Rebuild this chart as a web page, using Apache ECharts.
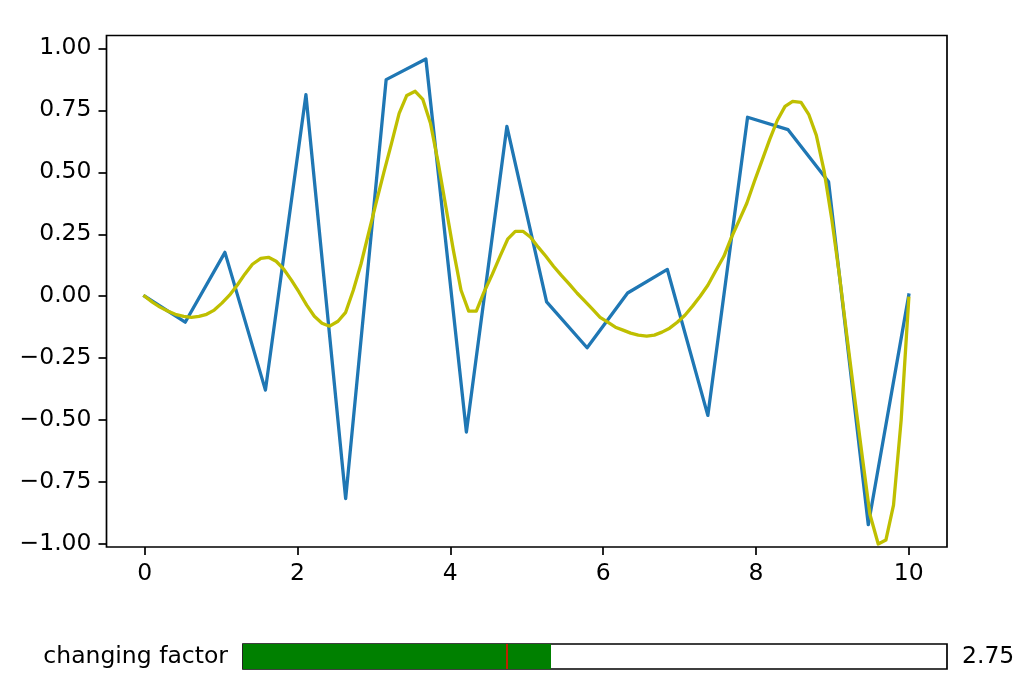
<!DOCTYPE html>
<html>
<head>
<meta charset="utf-8">
<script src="https://cdn.jsdelivr.net/npm/echarts@6/dist/echarts.min.js"></script>
<style>
  html, body { margin: 0; padding: 0; background: #fff; }
  #chart { width: 1024px; height: 689px; }
</style>
</head>
<body>
<div id="chart"></div>
<script>
// ---- data ----
const blueX = [0.00, 0.53, 1.05, 1.58, 2.11, 2.63, 3.16, 3.68, 4.21, 4.74,
               5.26, 5.79, 6.32, 6.84, 7.37, 7.89, 8.42, 8.95, 9.47, 10.00];
const blueY = [0.000, -0.105, 0.177, -0.379, 0.813, -0.817, 0.874, 0.957, -0.548, 0.685,
               -0.023, -0.208, 0.013, 0.108, -0.481, 0.722, 0.672, 0.462, -0.922, 0.005];

const yellowX = [0.00, 0.10, 0.20, 0.30, 0.40, 0.51, 0.61, 0.71, 0.81, 0.91,
                 1.01, 1.11, 1.21, 1.31, 1.41, 1.52, 1.62, 1.72, 1.82, 1.92,
                 2.02, 2.12, 2.22, 2.32, 2.42, 2.53, 2.63, 2.73, 2.83, 2.93,
                 3.03, 3.13, 3.23, 3.33, 3.43, 3.54, 3.64, 3.74, 3.84, 3.94,
                 4.04, 4.14, 4.24, 4.34, 4.44, 4.55, 4.65, 4.75, 4.85, 4.95,
                 5.05, 5.15, 5.25, 5.35, 5.45, 5.56, 5.66, 5.76, 5.86, 5.96,
                 6.06, 6.16, 6.26, 6.36, 6.46, 6.57, 6.67, 6.77, 6.87, 6.97,
                 7.07, 7.17, 7.27, 7.37, 7.47, 7.58, 7.68, 7.78, 7.88, 7.98,
                 8.08, 8.18, 8.28, 8.38, 8.48, 8.59, 8.69, 8.79, 8.89, 8.99,
                 9.09, 9.19, 9.29, 9.39, 9.49, 9.60, 9.70, 9.80, 9.90, 10.00];
const yellowY = [0.000, -0.024, -0.044, -0.060, -0.073, -0.081, -0.085, -0.081, -0.073, -0.056,
                 -0.028, 0.004, 0.044, 0.089, 0.129, 0.153, 0.157, 0.141, 0.109, 0.065,
                 0.016, -0.036, -0.081, -0.109, -0.121, -0.101, -0.065, 0.024, 0.129, 0.254,
                 0.379, 0.500, 0.617, 0.738, 0.810, 0.827, 0.794, 0.698, 0.540, 0.363,
                 0.185, 0.024, -0.060, -0.060, 0.016, 0.089, 0.161, 0.230, 0.262, 0.262,
                 0.238, 0.198, 0.161, 0.121, 0.085, 0.048, 0.012, -0.020, -0.052, -0.085,
                 -0.105, -0.125, -0.137, -0.149, -0.157, -0.161, -0.157, -0.145, -0.129, -0.105,
                 -0.077, -0.040, 0.000, 0.044, 0.101, 0.161, 0.238, 0.306, 0.375, 0.464,
                 0.548, 0.633, 0.710, 0.766, 0.786, 0.782, 0.734, 0.649, 0.508, 0.315,
                 0.089, -0.161, -0.407, -0.645, -0.879, -1.000, -0.984, -0.843, -0.500, -0.008];

const xTicks = [0, 2, 4, 6, 8, 10];
const yTicks = [-1.00, -0.75, -0.50, -0.25, 0.00, 0.25, 0.50, 0.75, 1.00];
const xLimits = [-0.5, 10.5];
const yLimits = [-1.012, 1.052];

const sliderLabel = 'changing factor';
const sliderMin = 1;
const sliderMax = 5;
const sliderInit = 2.5;
const sliderValue = 2.75;

// ---- chart ----
const FONT = 'DejaVu Sans';
const FS = 23.5;
const zip = (xs, ys) => xs.map((x, i) => [x, ys[i]]);
const fmtY = v => (v < 0 ? '\u2212' : '') + Math.abs(v).toFixed(2);

const chart = echarts.init(document.getElementById('chart'), null, { renderer: 'canvas' });

chart.setOption({
  animation: false,
  backgroundColor: '#ffffff',
  grid: [
    { left: 106.5, top: 35.5, width: 840.5, height: 511.5, show: true,
      borderColor: '#000', borderWidth: 1.7, backgroundColor: 'transparent', containLabel: false },
    { left: 243, top: 644, width: 704, height: 25, show: true,
      borderColor: '#000', borderWidth: 1.7, backgroundColor: 'transparent', containLabel: false }
  ],
  xAxis: [
    { type: 'value', gridIndex: 0, min: xLimits[0], max: xLimits[1], position: 'bottom',
      splitLine: { show: false },
      axisLine: { show: false, onZero: false },
      axisTick: { show: true, customValues: xTicks, length: 8, inside: false,
                  lineStyle: { color: '#000', width: 1.7 } },
      axisLabel: { show: true, customValues: xTicks, margin: 15, color: '#000',
                   fontFamily: FONT, fontSize: FS, formatter: v => String(v) } },
    { type: 'value', gridIndex: 1, min: sliderMin, max: sliderMax, show: false,
      axisLine: { onZero: false } }
  ],
  yAxis: [
    { type: 'value', gridIndex: 0, min: yLimits[0], max: yLimits[1], position: 'left',
      splitLine: { show: false },
      axisLine: { show: false, onZero: false },
      axisTick: { show: true, customValues: yTicks, length: 8, inside: false,
                  lineStyle: { color: '#000', width: 1.7 } },
      axisLabel: { show: true, customValues: yTicks, margin: 15, color: '#000',
                   fontFamily: FONT, fontSize: FS, formatter: fmtY } },
    { type: 'category', gridIndex: 1, position: 'left', data: [sliderLabel],
      axisLine: { show: false, onZero: false }, axisTick: { show: false }, splitLine: { show: false },
      axisLabel: { margin: 15, color: '#000', fontFamily: FONT, fontSize: FS } },
    { type: 'category', gridIndex: 1, position: 'right', data: [sliderValue.toFixed(2)],
      axisLine: { show: false, onZero: false }, axisTick: { show: false }, splitLine: { show: false },
      axisLabel: { margin: 15, color: '#000', fontFamily: FONT, fontSize: FS } }
  ],
  series: [
    { type: 'line', xAxisIndex: 0, yAxisIndex: 0, data: zip(blueX, blueY),
      showSymbol: false, symbol: 'none',
      lineStyle: { color: '#1f77b4', width: 3.3, join: 'round', cap: 'square' },
      itemStyle: { color: '#1f77b4' }, z: 2 },
    { type: 'line', xAxisIndex: 0, yAxisIndex: 0, data: zip(yellowX, yellowY),
      showSymbol: false, symbol: 'none',
      lineStyle: { color: '#bfbf00', width: 3.3, join: 'round', cap: 'square' },
      itemStyle: { color: '#bfbf00' }, z: 3, clip: false },
    { type: 'custom', xAxisIndex: 1, yAxisIndex: 1,
      data: [[sliderMin, sliderValue, 0]],
      encode: { x: [0, 1], y: 2 },
      renderItem: (params, api) => {
        const a = api.coord([api.value(0), api.value(2)]);
        const b = api.coord([api.value(1), api.value(2)]);
        const h = api.size([0, 1])[1];
        return { type: 'rect', shape: { x: a[0], y: a[1] - h / 2, width: b[0] - a[0], height: h },
                 style: { fill: '#008000' } };
      }, z: 1 },
    { type: 'custom', xAxisIndex: 1, yAxisIndex: 1,
      data: [[sliderInit, 0]],
      encode: { x: 0, y: 1 },
      renderItem: (params, api) => {
        const c = api.coord([api.value(0), api.value(1)]);
        const h = api.size([0, 1])[1];
        return { type: 'line', shape: { x1: c[0], y1: c[1] - h / 2, x2: c[0], y2: c[1] + h / 2 },
                 style: { stroke: '#ff0000', lineWidth: 1.5 } };
      }, z: 2 }
  ]
});
</script>
</body>
</html>
